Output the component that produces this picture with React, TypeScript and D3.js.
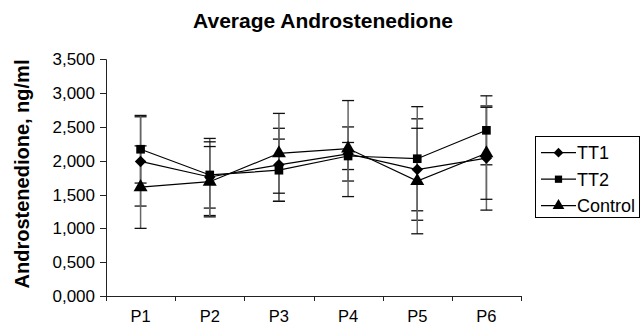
import { useEffect, useRef } from 'react';
import * as d3 from 'd3';

const periods = ['P1', 'P2', 'P3', 'P4', 'P5', 'P6'];
const tt1 = [1.99, 1.76, 1.94, 2.1, 1.87, 2.04];
const tt2 = [2.17, 1.79, 1.86, 2.07, 2.03, 2.45];
const control = [1.61, 1.69, 2.11, 2.18, 1.7, 2.11];
const tt1Err = [0.66, 0.57, 0.54, 0.4, 0.75, 0.77];
const tt2Err = [0.5, 0.49, 0.46, 0.2, 0.77, 0.51];
const controlErr = [0.61, 0.52, 0.59, 0.71, 0.78, 0.68];
const yTicks = [0, 0.5, 1, 1.5, 2, 2.5, 3, 3.5];

const seriesNames = ['TT1', 'TT2', 'Control'];
const seriesValues = [tt1, tt2, control];
const seriesErrors = [tt1Err, tt2Err, controlErr];
const seriesSymbols = [d3.symbolDiamond2, d3.symbolSquare, d3.symbolTriangle];

const fmt = d3.formatLocale({ decimal: ',', thousands: '.', grouping: [3], currency: ['', ''] }).format('.3f');

const App = () => {
  const ref = useRef<SVGSVGElement>(null);

  useEffect(() => {
    if (!ref.current) return;
    const svg = d3.select(ref.current);
    svg.selectAll('*').remove();

    const font = '"Liberation Sans", Arial, sans-serif';
    const x = d3.scaleBand().domain(periods).range([106, 521]);
    const y = d3.scaleLinear().domain([0, 3.5]).range([296, 59.3]);
    const cx = (p: string) => (x(p) ?? 0) + x.bandwidth() / 2;

    // title
    svg.append('text')
      .attr('x', 323).attr('y', 28)
      .attr('text-anchor', 'middle')
      .style('font-family', font).style('font-weight', 'bold').style('font-size', '21px')
      .text('Average Androstenedione');

    // y title
    svg.append('text')
      .attr('transform', 'translate(29,174) rotate(-90)')
      .attr('text-anchor', 'middle')
      .style('font-family', font).style('font-weight', 'bold').style('font-size', '20px')
      .text('Androstenedione, ng/ml');

    // axes
    const axis = svg.append('g').attr('stroke', '#222').attr('stroke-width', 1);
    axis.append('line').attr('x1', 106.5).attr('x2', 106.5).attr('y1', y(3.5)).attr('y2', y(0));
    axis.append('line').attr('x1', 106).attr('x2', 521).attr('y1', y(0) + 0.5).attr('y2', y(0) + 0.5);
    yTicks.forEach(t => {
      axis.append('line').attr('x1', 100).attr('x2', 106).attr('y1', Math.round(y(t)) + 0.5).attr('y2', Math.round(y(t)) + 0.5);
      svg.append('text')
        .attr('x', 95).attr('y', y(t)).attr('dy', '0.36em')
        .attr('text-anchor', 'end')
        .style('font-family', font).style('font-size', '17px')
        .text(fmt(t));
    });
    [...periods.map(p => x(p) ?? 0), 521].forEach(v => {
      axis.append('line').attr('x1', Math.round(v) + 0.5).attr('x2', Math.round(v) + 0.5).attr('y1', y(0)).attr('y2', y(0) + 5);
    });
    periods.forEach(p => {
      svg.append('text')
        .attr('x', cx(p)).attr('y', 322)
        .attr('text-anchor', 'middle')
        .style('font-family', font).style('font-size', '16.5px')
        .text(p);
    });

    // error bars
    seriesValues.forEach((vals, s) => {
      const g = svg.append('g');
      vals.forEach((v, i) => {
        const px = cx(periods[i]);
        const e = seriesErrors[s][i];
        g.append('line').attr('x1', px).attr('x2', px).attr('y1', y(v + e)).attr('y2', y(v - e))
          .attr('stroke', '#666').attr('stroke-width', 1.5);
        [v + e, v - e].forEach(c => {
          g.append('line').attr('x1', px - 6).attr('x2', px + 6).attr('y1', y(c)).attr('y2', y(c))
            .attr('stroke', '#111').attr('stroke-width', 1.3);
        });
      });
    });

    // lines
    const line = d3.line<number>().x((_, i) => cx(periods[i])).y(d => y(d));
    seriesValues.forEach(vals => {
      svg.append('path').datum(vals).attr('d', line).attr('fill', 'none').attr('stroke', '#000').attr('stroke-width', 1.2);
    });

    // markers
    const sizes = [85, 75, 85];
    seriesValues.forEach((vals, s) => {
      vals.forEach((v, i) => {
        svg.append('path')
          .attr('transform', `translate(${cx(periods[i])},${y(v)})`)
          .attr('d', d3.symbol().type(seriesSymbols[s]).size(sizes[s])())
          .attr('fill', '#000');
      });
    });

    // legend
    const lg = svg.append('g');
    lg.append('rect').attr('x', 535.5).attr('y', 136.5).attr('width', 104).attr('height', 81)
      .attr('fill', '#fff').attr('stroke', '#000').attr('stroke-width', 1);
    seriesNames.forEach((n, s) => {
      const ly = 152.7 + s * 26.5;
      lg.append('line').attr('x1', 541).attr('x2', 576).attr('y1', ly).attr('y2', ly).attr('stroke', '#000').attr('stroke-width', 1.2);
      lg.append('path').attr('transform', `translate(558.5,${ly})`)
        .attr('d', d3.symbol().type(seriesSymbols[s]).size(sizes[s] * 0.7)()).attr('fill', '#000');
      lg.append('text').attr('x', 577).attr('y', ly).attr('dy', '0.36em')
        .style('font-family', font).style('font-size', '18px').text(n);
    });
  }, []);

  return (
    <svg
      ref={ref}
      width={642}
      height={325}
      style={{ position: 'absolute', left: 0, top: 0, background: '#fff' }}
    />
  );
};

export default App;
